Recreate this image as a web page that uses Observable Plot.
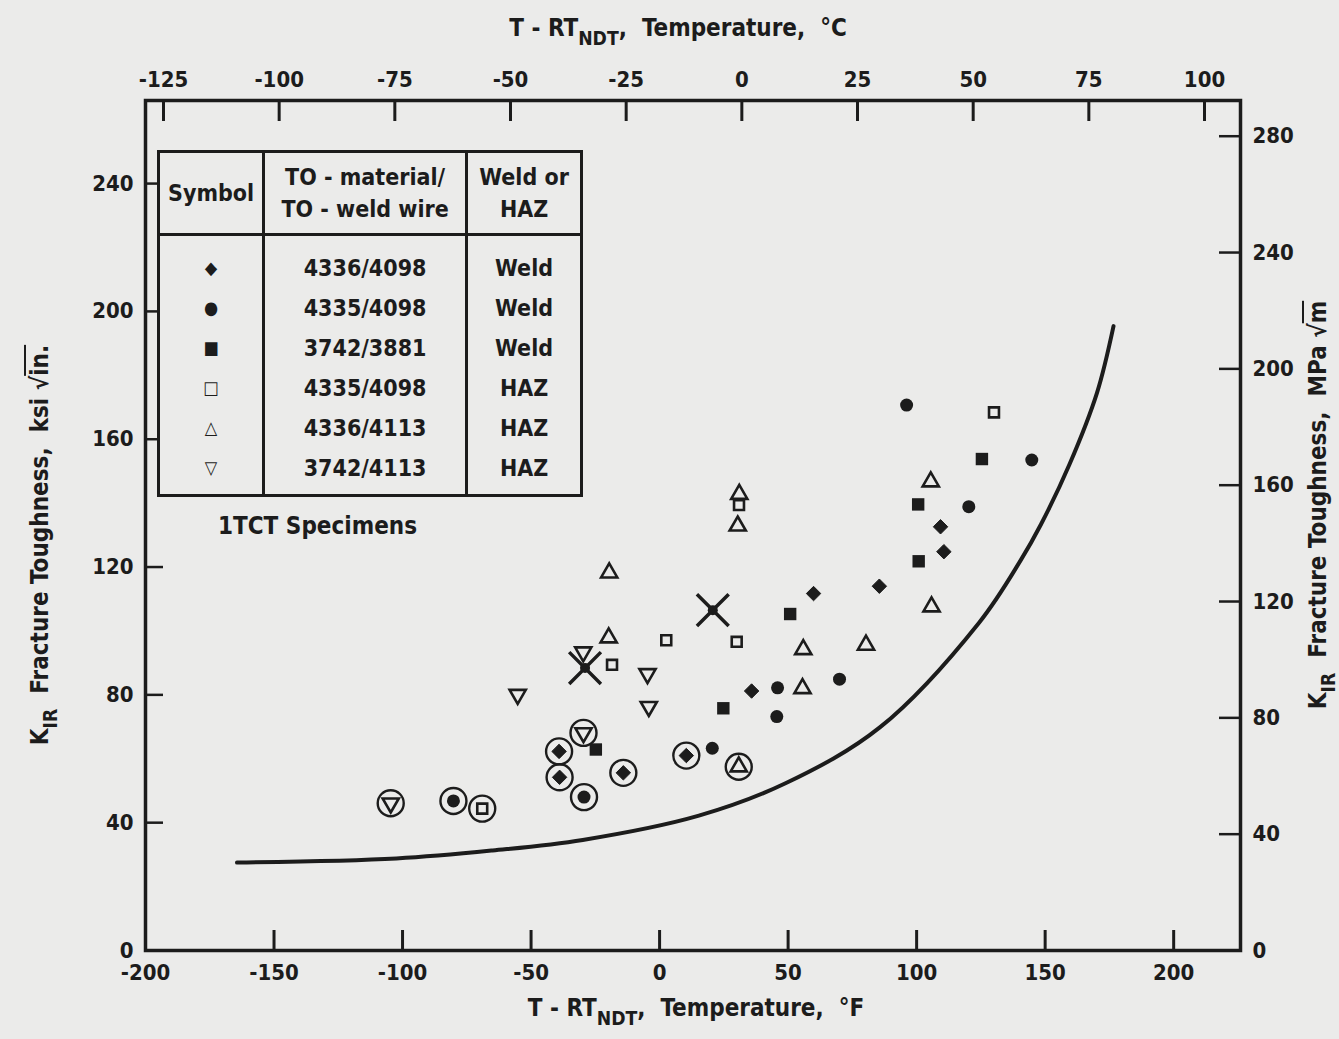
<!DOCTYPE html>
<html>
<head>
<meta charset="utf-8">
<script src="https://cdn.jsdelivr.net/npm/d3@7"></script>
<script src="https://cdn.jsdelivr.net/npm/@observablehq/plot@0.6"></script>
<style>
  body { margin: 0; background: #ebebea; }
  #wrap { position: relative; width: 1339px; height: 1039px; background: #ebebea; overflow: hidden;
    font-family: "DejaVu Sans Condensed", "Liberation Sans Narrow", "DejaVu Sans", sans-serif;
    font-stretch: condensed; font-weight: bold; color: #1c1c1c; }
  #wrap svg { position: absolute; left: 0; top: 0; font-stretch: condensed; }
  .ttl { position: absolute; white-space: nowrap; font-size: 24px; transform: translate(-50%, -50%); }
  .ttl sub { font-size: 0.8em; vertical-align: -0.45em; line-height: 0; }
  .rot { transform: translate(-50%, -50%) rotate(-90deg); }
  .ov { text-decoration: overline; }
  #leg { position: absolute; left: 157px; top: 150px; border-collapse: collapse; border: 3px solid #1c1c1c;
    font-size: 23px; text-align: center; background: #ebebea; }
  #leg th { font-weight: bold; border-left: 3px solid #1c1c1c; border-bottom: 3px solid #1c1c1c;
    padding: 6px 8px; line-height: 32px; height: 68px; }
  #leg th:first-child, #leg td:first-child { border-left: none; }
  #leg td { border-left: 3px solid #1c1c1c; height: 40px; padding: 0 8px; line-height: 40px; }
  #leg td.sym { font-family: "DejaVu Sans", sans-serif; font-size: 18px; width: 84px; }
  #leg td.mat { width: 184px; }
  #leg td.typ { width: 96px; }
  #leg tr.first td { padding-top: 12px; }
  #leg tr.last td { padding-bottom: 6px; }
  #note { position: absolute; left: 218px; top: 512px; font-size: 24px; }
</style>
</head>
<body>
<div id="wrap"></div>
<script>
// ---------------- data ----------------
// x: T - RT_NDT (°F), y: K_IR (ksi·√in.)
// 4336/4098 Weld — filled diamonds
const diamondT = [35.8, 59.9, 85.5, 109.3, 110.6, -39.1, -38.9, -14.1, 10.4];
const diamondK = [81.2, 111.7, 114.0, 132.6, 124.8, 62.3, 54.2, 55.6, 61.0];
const diamondRing = [0, 0, 0, 0, 0, 1, 1, 1, 1];
// 4335/4098 Weld — filled circles
const circleT = [96.1, 144.8, 120.3, 70.0, 45.9, 45.6, 20.5, -29.4, -80.2];
const circleK = [170.7, 153.5, 138.9, 84.9, 82.2, 73.2, 63.3, 48.0, 46.8];
const circleRing = [0, 0, 0, 0, 0, 0, 0, 1, 1];
// 3742/3881 Weld — filled squares
const fsquareT = [125.4, 100.6, 100.8, 50.8, 24.8, -24.8];
const fsquareK = [153.8, 139.6, 121.8, 105.3, 75.8, 62.9];
const fsquareRing = [0, 0, 0, 0, 0, 0];
// 4335/4098 HAZ — open squares
const osquareT = [130.1, 30.9, 30.0, 2.6, -18.5, -69.0];
const osquareK = [168.4, 139.4, 96.6, 97.1, 89.4, 44.4];
const osquareRing = [0, 0, 0, 0, 0, 1];
// 4336/4113 HAZ — open triangles (up)
const triUpT = [105.5, 31.0, 30.4, 105.8, 80.3, 55.9, 55.6, -19.6, -19.8, 30.8];
const triUpK = [146.7, 142.8, 132.9, 107.6, 95.6, 94.2, 82.0, 118.2, 97.9, 57.5];
const triUpRing = [0, 0, 0, 0, 0, 0, 0, 0, 0, 1];
// 3742/4113 HAZ — open triangles (down)
const triDownT = [-29.7, -4.7, -4.2, -55.2, -29.6, -104.6];
const triDownK = [93.4, 86.6, 76.3, 80.1, 68.1, 46.1];
const triDownRing = [0, 0, 0, 0, 1, 1];
// crossed points
const crossT = [20.7, -29.0];
const crossK = [106.5, 88.4];
// K_IR reference curve
const curveT = [-164.4, -102.4, -65.0, -29.9, 15.3, 49.2, 85.8, 124.3, 140.4, 148.4, 159.4, 170.2, 176.6];
const curveK = [27.5, 28.8, 31.3, 34.6, 42.2, 52.4, 69.9, 102.6, 122.0, 133.4, 152.0, 174.6, 195.4];
// axes
const fTicks = [-200, -150, -100, -50, 0, 50, 100, 150, 200];
const cTicks = [-125, -100, -75, -50, -25, 0, 25, 50, 75, 100];
const ksiTicks = [0, 40, 80, 120, 160, 200, 240];
const mpaTicks = [0, 40, 80, 120, 160, 200, 240, 280];
// legend table
const legendSymbols = ["◆", "●", "■", "□", "△", "▽"];
const legendMaterials = ["4336/4098", "4335/4098", "3742/3881", "4335/4098", "4336/4113", "3742/4113"];
const legendType = ["Weld", "Weld", "Weld", "HAZ", "HAZ", "HAZ"];

// ---------------- build ----------------
const ink = "#1c1c1c";
const zip = (T, K, R) => T.map((t, i) => ({t, k: K[i], ring: R ? R[i] : 0}));
const diamonds = zip(diamondT, diamondK, diamondRing);
const circles = zip(circleT, circleK, circleRing);
const fsquares = zip(fsquareT, fsquareK, fsquareRing);
const osquares = zip(osquareT, osquareK, osquareRing);
const triUps = zip(triUpT, triUpK, triUpRing);
const triDowns = zip(triDownT, triDownK, triDownRing);
const crosses = zip(crossT, crossK);
const curve = zip(curveT, curveK);
const rings = [diamonds, circles, fsquares, osquares, triUps, triDowns].flat().filter(d => d.ring);

const triDownSymbol = {
  draw(context, size) {
    const s3 = Math.sqrt(3);
    const y = -Math.sqrt(size / (s3 * 3));
    context.moveTo(0, -y * 2);
    context.lineTo(-s3 * y, y);
    context.lineTo(s3 * y, y);
    context.closePath();
  }
};

const cToF = c => c * 9 / 5 + 32;
const mpaToKsi = m => m / 1.0988;

const plot = Plot.plot({
  width: 1339,
  height: 1039,
  marginLeft: 145,
  marginRight: 99,
  marginTop: 100,
  marginBottom: 89,
  x: {domain: [-200, 226]},
  y: {domain: [0, 266]},
  style: {background: "transparent", color: ink, fontSize: "22px", fontWeight: "bold",
    fontFamily: '"DejaVu Sans Condensed", "Liberation Sans Narrow", "DejaVu Sans", sans-serif'},
  marks: [
    Plot.axisX({anchor: "bottom", ticks: fTicks, tickSize: -20, tickPadding: 34, strokeWidth: 3,
      label: null, tickFormat: d => String(d)}),
    Plot.axisX({anchor: "top", ticks: cTicks.map(cToF), tickSize: -20, tickPadding: 34, strokeWidth: 3,
      label: null, tickFormat: d => String(Math.round((d - 32) * 5 / 9))}),
    Plot.axisY({anchor: "left", ticks: ksiTicks, tickSize: -18, tickPadding: 30, strokeWidth: 2.5,
      label: null, tickFormat: d => String(d)}),
    Plot.axisY({anchor: "right", ticks: mpaTicks.map(mpaToKsi), tickSize: -22, tickPadding: 34, strokeWidth: 2.5,
      label: null, tickFormat: d => String(Math.round(d * 1.0988))}),
    Plot.frame({stroke: ink, strokeWidth: 3.5}),
    Plot.line(curve, {x: "t", y: "k", curve: "catmull-rom", stroke: ink, strokeWidth: 4}),
    Plot.dot(rings, {x: "t", y: "k", r: 13, stroke: ink, strokeWidth: 2.4, fill: "none"}),
    Plot.dot(diamonds, {x: "t", y: "k", symbol: "diamond2", r: 6.5, fill: ink, stroke: ink, strokeWidth: 1}),
    Plot.dot(circles, {x: "t", y: "k", symbol: "circle", r: 6.5, fill: ink}),
    Plot.dot(fsquares, {x: "t", y: "k", symbol: "square", r: 7, fill: ink}),
    Plot.dot(osquares, {x: "t", y: "k", symbol: "square", r: 5.6, fill: "none", stroke: ink, strokeWidth: 2.6}),
    Plot.dot(triUps, {x: "t", y: "k", symbol: "triangle", r: 6, fill: "none", stroke: ink, strokeWidth: 2.6}),
    Plot.dot(triDowns, {x: "t", y: "k", symbol: triDownSymbol, r: 6, fill: "none", stroke: ink, strokeWidth: 2.6}),
    Plot.dot(crosses, {x: "t", y: "k", symbol: "times", r: 14.5, stroke: ink, strokeWidth: 3.5}),
    Plot.dot(crosses, {x: "t", y: "k", symbol: "circle", r: 5, fill: ink})
  ]
});

const wrap = document.getElementById("wrap");
wrap.appendChild(plot);

// titles
function addTitle(html, left, top, cls) {
  const d = document.createElement("div");
  d.className = "ttl" + (cls ? " " + cls : "");
  d.style.left = left + "px";
  d.style.top = top + "px";
  d.innerHTML = html;
  wrap.appendChild(d);
}
addTitle("T - RT<sub>NDT</sub>, &nbsp;Temperature, &nbsp;°C", 678, 28);
addTitle("T - RT<sub>NDT</sub>, &nbsp;Temperature, &nbsp;°F", 696, 1008);
addTitle("K<sub>IR</sub> &nbsp;Fracture Toughness, &nbsp;ksi √<span class='ov'>in.</span>", 40, 545, "rot");
addTitle("K<sub>IR</sub> &nbsp;Fracture Toughness, &nbsp;MPa √<span class='ov'>m</span>", 1318, 505, "rot");

// legend table
const tbl = document.createElement("table");
tbl.id = "leg";
let rows = "<tr><th>Symbol</th><th>TO - material/<br>TO - weld wire</th><th>Weld or<br>HAZ</th></tr>";
legendSymbols.forEach((s, i) => {
  const cls = i === 0 ? "first" : (i === legendSymbols.length - 1 ? "last" : "");
  rows += `<tr class="${cls}"><td class="sym">${s}</td><td class="mat">${legendMaterials[i]}</td><td class="typ">${legendType[i]}</td></tr>`;
});
tbl.innerHTML = rows;
wrap.appendChild(tbl);

const note = document.createElement("div");
note.id = "note";
note.textContent = "1TCT Specimens";
wrap.appendChild(note);
</script>
</body>
</html>
